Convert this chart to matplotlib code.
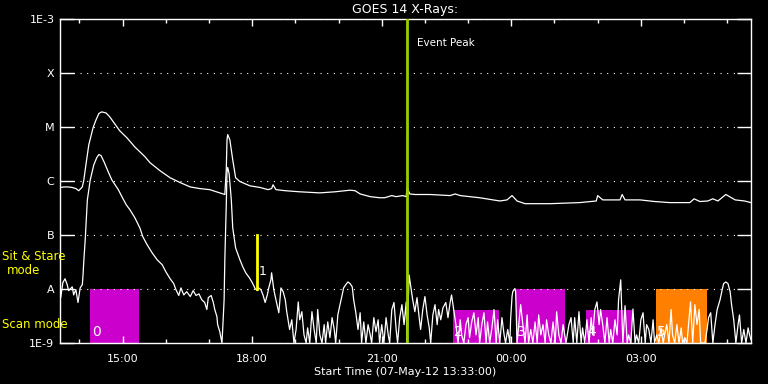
import numpy as np
import matplotlib
matplotlib.use("Agg")
import matplotlib.pyplot as plt

plt.rcParams["font.family"] = ["DejaVu Sans"]

# time axis: minutes after start (07-May-12 13:33:00)
tick_minutes = [87, 267, 447, 627, 807]
tick_labels = ["15:00", "18:00", "21:00", "00:00", "03:00"]

flux_levels = [1e-9, 1e-8, 1e-7, 1e-6, 1e-5, 1e-4, 1e-3]
flux_labels = ["1E-9", "A", "B", "C", "M", "X", "1E-3"]

# long channel (1-8 A), log10 flux
long_min = [0, 6, 11, 17, 22, 26, 31, 33, 36, 40,
            46, 50, 54, 58, 64, 69, 76, 83, 93, 104,
            111, 118, 125, 139, 153, 167, 181, 194, 208, 222,
            229, 231, 232, 233, 236, 240, 244, 250, 264, 278,
            289, 294, 296, 300, 313, 333, 361, 382, 403, 410,
            417, 431, 444, 451, 461, 467, 476, 481, 482, 486,
            493, 514, 542, 549, 556, 583, 611, 621, 628, 635,
            646, 681, 722, 745, 747, 754, 778, 781, 785, 806,
            826, 847, 875, 881, 889, 900, 907, 914, 925, 938,
            951, 960]
long_log = [-6.12, -6.11, -6.11, -6.12, -6.14, -6.18, -6.11, -5.99, -5.70, -5.33,
            -5.01, -4.87, -4.75, -4.72, -4.74, -4.81, -4.94, -5.07, -5.20, -5.37,
            -5.46, -5.55, -5.66, -5.81, -5.94, -6.03, -6.11, -6.14, -6.16, -6.22,
            -6.25, -5.79, -5.24, -5.14, -5.24, -5.61, -5.94, -6.01, -6.09, -6.12,
            -6.16, -6.14, -6.07, -6.16, -6.18, -6.20, -6.22, -6.20, -6.17, -6.18,
            -6.24, -6.29, -6.31, -6.31, -6.27, -6.29, -6.27, -6.29, -6.12, -6.24,
            -6.25, -6.25, -6.27, -6.24, -6.27, -6.31, -6.37, -6.35, -6.27, -6.37,
            -6.42, -6.42, -6.40, -6.37, -6.27, -6.35, -6.35, -6.25, -6.35, -6.35,
            -6.38, -6.40, -6.40, -6.33, -6.38, -6.37, -6.33, -6.37, -6.25, -6.35,
            -6.37, -6.40]

# short channel (0.5-4 A), log10 flux
short_min = [0, 1, 4, 7, 10, 12, 17, 19, 22, 25,
             28, 31, 32, 33, 35, 38, 42, 47, 51, 54,
             57, 61, 67, 72, 81, 86, 92, 97, 104, 111,
             115, 121, 128, 135, 142, 147, 153, 158, 161, 165,
             168, 172, 176, 181, 185, 189, 193, 197, 201, 204,
             206, 210, 213, 215, 218, 219, 222, 225, 226, 228,
             229, 231, 232, 233, 235, 238, 240, 244, 250, 254,
             258, 263, 267, 271, 274, 276, 279, 282, 285, 288,
             290, 293, 294, 297, 300, 304, 307, 310, 313, 315,
             319, 322, 325, 328, 331, 333, 336, 339, 342, 344,
             347, 350, 353, 356, 358, 361, 364, 367, 369, 372,
             375, 378, 381, 383, 386, 389, 392, 394, 397, 400,
             403, 406, 408, 411, 414, 417, 419, 422, 425, 428,
             431, 433, 436, 439, 442, 444, 447, 450, 453, 456,
             458, 461, 464, 467, 469, 472, 475, 478, 481, 482,
             485, 488, 490, 493, 496, 499, 501, 504, 507, 510,
             513, 515, 518, 521, 524, 526, 529, 532, 536, 539,
             542, 544, 547, 550, 553, 556, 558, 561, 564, 567,
             569, 572, 575, 578, 581, 583, 586, 589, 592, 594,
             597, 600, 603, 606, 608, 611, 614, 617, 619, 622,
             625, 626, 628, 629, 632, 633, 635, 638, 640, 643,
             646, 649, 651, 654, 657, 660, 663, 665, 668, 671,
             674, 676, 679, 682, 685, 688, 690, 693, 696, 699,
             703, 707, 710, 713, 715, 718, 721, 724, 726, 729,
             732, 735, 738, 740, 743, 746, 749, 751, 754, 757,
             760, 763, 765, 768, 771, 774, 776, 779, 782, 785,
             788, 790, 793, 796, 799, 801, 804, 807, 810, 813,
             815, 818, 821, 824, 826, 829, 832, 835, 838, 840,
             843, 846, 849, 851, 854, 857, 860, 863, 865, 868,
             871, 874, 876, 879, 882, 885, 888, 890, 896, 899,
             901, 904, 907, 910, 913, 917, 920, 922, 925, 928,
             931, 933, 936, 939, 942, 944, 947, 950, 953, 956,
             958, 960]
short_log = [-8.05, -8.16, -7.88, -7.81, -7.92, -8.03, -7.96, -8.11, -8.01, -8.25,
             -7.98, -7.92, -7.74, -7.50, -7.09, -6.35, -5.98, -5.70, -5.57, -5.51,
             -5.53, -5.64, -5.83, -5.98, -6.16, -6.29, -6.44, -6.53, -6.68, -6.87,
             -7.03, -7.18, -7.33, -7.46, -7.55, -7.68, -7.81, -7.90, -8.01, -8.12,
             -7.98, -8.11, -8.05, -8.14, -8.03, -8.12, -8.09, -8.20, -8.25, -8.38,
             -8.16, -8.12, -8.25, -8.38, -8.51, -8.66, -8.79, -9.0, -8.75, -8.20,
             -7.46, -6.44, -5.83, -5.75, -5.87, -6.35, -6.87, -7.24, -7.46, -7.59,
             -7.70, -7.79, -7.88, -7.99, -8.03, -7.98, -8.01, -8.11, -8.25, -8.11,
             -7.98, -7.83, -7.70, -8.01, -8.20, -8.44, -7.98, -8.05, -8.20, -8.42,
             -8.75, -8.57, -9.0, -8.75, -8.24, -8.57, -8.42, -8.85, -9.0, -8.72,
             -9.0, -8.42, -8.75, -9.0, -8.38, -8.85, -9.0, -8.66, -9.0, -8.61,
             -8.90, -8.53, -8.75, -9.0, -8.48, -8.29, -8.11, -7.98, -7.92, -7.87,
             -7.90, -7.96, -8.20, -8.44, -8.75, -8.44, -9.0, -8.61, -9.0, -8.66,
             -8.85, -9.0, -8.53, -8.79, -8.57, -9.0, -8.66, -9.0, -8.53, -8.85,
             -9.0, -8.38, -8.25, -8.75, -9.0, -8.53, -8.29, -8.66, -8.24, -9.0,
             -7.74, -8.01, -8.20, -8.42, -8.16, -8.53, -8.75, -8.38, -8.14, -8.48,
             -8.72, -9.0, -8.48, -8.29, -8.66, -8.38, -8.57, -8.35, -8.25, -8.53,
             -8.25, -8.11, -8.38, -8.66, -9.0, -8.57, -8.85, -9.0, -8.66, -8.53,
             -8.90, -8.61, -8.44, -8.85, -8.53, -9.0, -8.66, -8.44, -9.0, -8.61,
             -9.0, -8.72, -8.38, -9.0, -8.57, -9.0, -8.53, -8.85, -9.0, -8.75,
             -9.0, -8.57, -8.14, -8.05, -7.99, -8.05, -9.0, -8.57, -8.29, -8.66,
             -9.0, -8.48, -9.0, -8.75, -9.0, -8.61, -9.0, -8.48, -8.85, -8.66,
             -9.0, -8.57, -8.85, -9.0, -8.61, -9.0, -8.42, -8.85, -9.0, -8.66,
             -9.0, -8.66, -8.53, -9.0, -8.53, -9.0, -8.42, -9.0, -8.72, -9.0,
             -8.57, -9.0, -8.53, -8.85, -8.38, -8.24, -8.66, -8.38, -8.66, -9.0,
             -8.53, -9.0, -8.75, -9.0, -8.57, -8.85, -8.20, -7.83, -9.0, -8.31,
             -9.0, -8.85, -9.0, -8.37, -9.0, -8.85, -9.0, -8.57, -8.44, -9.0,
             -8.66, -8.75, -9.0, -8.57, -9.0, -8.85, -9.0, -8.72, -9.0, -8.85,
             -8.66, -9.0, -8.38, -8.85, -9.0, -8.66, -9.0, -8.72, -9.0, -8.90,
             -9.0, -8.53, -8.24, -9.0, -8.29, -8.66, -8.38, -9.0, -9.0, -8.75,
             -8.53, -8.44, -9.0, -8.66, -8.38, -8.20, -8.01, -7.90, -7.87, -7.90,
             -8.05, -8.29, -8.57, -9.0, -8.66, -8.48, -9.0, -8.75, -9.0, -8.72,
             -8.85, -8.94]

# observing blocks
block_start = [42, 546, 633, 731, 828]
block_end = [110, 610, 701, 795, 899]
block_top_log = [-8.0, -8.38, -8.0, -8.38, -8.0]
block_names = ["0", "2", "3", "4", "5"]
block_colors = ["#cc00cc", "#cc00cc", "#cc00cc", "#cc00cc", "#ff8000"]

event_peak_min = 482
marker_min = 274
marker_range = [1e-8, 1e-7]

fig = plt.figure(figsize=(7.68, 3.84), dpi=100, facecolor="black")
ax = fig.add_axes([60 / 768, 41 / 384, 691 / 768, 324 / 384])
ax.set_facecolor("black")
ax.set_yscale("log")
ax.set_xlim(0, 960)
ax.set_ylim(1e-9, 1e-3)

floor = 1e-9
for s, e, top, name, col in zip(block_start, block_end, block_top_log,
                                 block_names, block_colors):
    ax.bar(s, 10 ** top - floor, width=e - s, bottom=floor, align="edge",
           color=col, linewidth=0, zorder=1)
    ax.text(s + 2, 10 ** -8.8, name, color="white", fontsize=10,
            ha="left", va="center", zorder=5)

ax.plot(long_min, 10 ** np.array(long_log), color="white", lw=0.9, zorder=3)
ax.plot(short_min, 10 ** np.array(short_log), color="white", lw=0.9, zorder=3)

ax.axvline(event_peak_min, color="#9acd00", lw=2, zorder=4)
ax.text(event_peak_min + 14, 10 ** -3.45, "Event Peak", color="white",
        fontsize=7.5, ha="left", va="center")

ax.plot([marker_min, marker_min], marker_range, color="#ffff00", lw=2, zorder=4)
ax.text(marker_min + 2, 10 ** -7.68, "1", color="white", fontsize=9,
        ha="left", va="center", zorder=5)

ax.set_xticks(tick_minutes)
ax.set_xticklabels(tick_labels)
ax.set_xticks(np.arange(27, 960, 60), minor=True)
ax.set_yticks(flux_levels)
ax.set_yticklabels(flux_labels)
ax.yaxis.set_minor_locator(matplotlib.ticker.NullLocator())

ax.tick_params(axis="x", which="major", direction="in", length=5, width=1,
               top=True, bottom=True, colors="white", labelsize=8, pad=8)
ax.tick_params(axis="x", which="minor", direction="in", length=3, width=1,
               top=True, bottom=True, colors="white")
ax.tick_params(axis="y", which="major", direction="in", length=10, width=1,
               left=True, right=True, colors="white", labelsize=8, pad=4)

for sp in ax.spines.values():
    sp.set_color("white")
    sp.set_linewidth(1)

ax.yaxis.grid(True, color="white", linestyle=(0, (1, 5)), lw=0.8)
ax.set_axisbelow(False)

ax.set_xlabel("Start Time (07-May-12 13:33:00)", color="white", fontsize=8,
              labelpad=2)
fig.text(405 / 768, 1 - 9 / 384, "GOES 14 X-Rays:", color="white",
         fontsize=9, ha="center", va="center")

fig.text(2 / 768, 1 - 257 / 384, "Sit & Stare", color="#ffff00", fontsize=8.5,
         ha="left", va="center")
fig.text(24 / 768, 1 - 271 / 384, "mode", color="#ffff00", fontsize=8.5,
         ha="center", va="center")
fig.text(2 / 768, 1 - 324 / 384, "Scan mode", color="#ffff00", fontsize=8.5,
         ha="left", va="center")

fig.savefig("out.png", dpi=100, facecolor="black")
